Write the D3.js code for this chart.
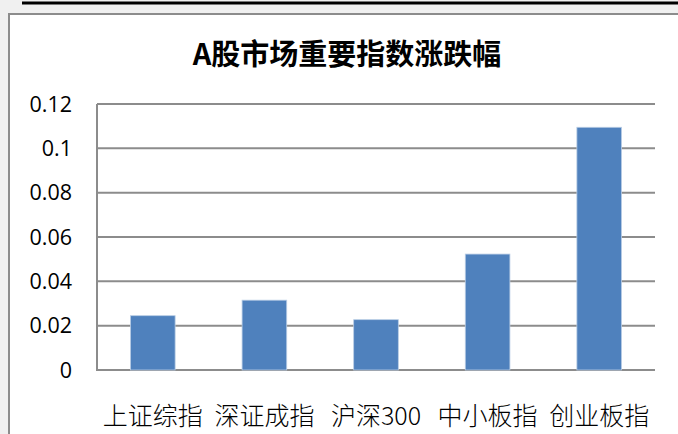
<!DOCTYPE html>
<html><head><meta charset="utf-8">
<script src="https://cdn.jsdelivr.net/npm/d3@7"></script>
<style>html,body{margin:0;padding:0;background:#f0f0f0;overflow:hidden}</style>
</head><body>
<svg id="c" width="678" height="434"></svg>
<script>
const categories = ["上证综指","深证成指","沪深300","中小板指","创业板指"];
const values = [0.0245, 0.0315, 0.0227, 0.0523, 0.1095];
const yTicks = [0, 0.02, 0.04, 0.06, 0.08, 0.1, 0.12];
const yTickLabels = ["0","0.02","0.04","0.06","0.08","0.1","0.12"];
const title = "A股市场重要指数涨跌幅";

const svg = d3.select("#c");
// background frame
svg.append("rect").attr("x",0).attr("y",0).attr("width",678).attr("height",434).attr("fill","#f0f0f0");
svg.append("line").attr("x1",22).attr("x2",678).attr("y1",3).attr("y2",3).attr("stroke","#000").attr("stroke-width",3);
svg.append("rect").attr("x",9).attr("y",14).attr("width",700).attr("height",440).attr("fill","#fff").attr("stroke","#8c8c8c").attr("stroke-width",2);

const pLeft=97, pRight=655, pTop=104, pBottom=370;
const x = d3.scaleBand().domain(categories).range([pLeft,pRight]).paddingInner(0.6).paddingOuter(0.3);
const y = d3.scaleLinear().domain([0,0.12]).range([pBottom,pTop]);

// gridlines
svg.append("g").selectAll("line").data(yTicks).join("line")
  .attr("x1",pLeft).attr("x2",pRight).attr("y1",d=>y(d)).attr("y2",d=>y(d))
  .attr("stroke","#8c8c8c").attr("stroke-width",2);
// y axis line
svg.append("line").attr("x1",pLeft).attr("x2",pLeft).attr("y1",pTop).attr("y2",pBottom+1).attr("stroke","#8c8c8c").attr("stroke-width",2);

// y labels
svg.append("g").selectAll("text").data(yTicks).join("text")
  .attr("x",72).attr("y",d=>y(d)).attr("dy","0.36em").attr("text-anchor","end")
  .attr("font-family","'Open Sans','DejaVu Sans',sans-serif").attr("font-size",21.5).attr("fill","#000")
  .text((d,i)=>yTickLabels[i]);

// bars
svg.append("g").selectAll("rect").data(values).join("rect")
  .attr("x",(d,i)=>x(categories[i])).attr("width",x.bandwidth())
  .attr("y",d=>y(d)).attr("height",d=>pBottom-y(d))
  .attr("fill","#4f81bd").attr("stroke","#b9cde5").attr("stroke-width",0.8);

// x labels
svg.append("g").selectAll("text").data(categories).join("text")
  .attr("x",d=>x(d)+x.bandwidth()/2).attr("y",425).attr("text-anchor","middle")
  .attr("font-family","'Noto Sans CJK SC',sans-serif").attr("font-weight",300).attr("font-size",25).attr("fill","#000")
  .text(d=>d);

// title
svg.append("text").attr("x",347).attr("y",65).attr("text-anchor","middle")
  .attr("font-family","'Noto Sans CJK SC',sans-serif").attr("font-weight","bold").attr("font-size",29).attr("fill","#000")
  .text(title);
</script>
</body></html>
